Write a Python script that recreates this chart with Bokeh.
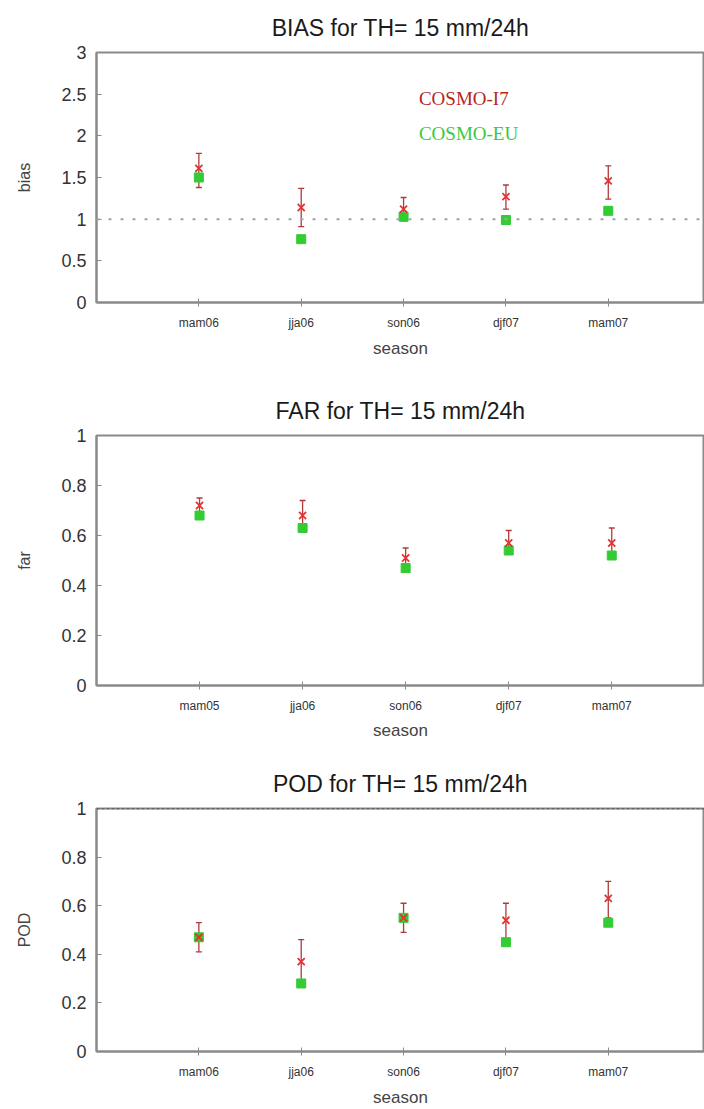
from bokeh.plotting import figure
from bokeh.models import (Range1d, FixedTicker, Span, Whisker, TeeHead,
                          ColumnDataSource, Label)
from bokeh.layouts import column
from bokeh.embed import file_html
from bokeh.resources import INLINE

# ---------------- data ----------------
seasons_bias = ["mam06", "jja06", "son06", "djf07", "mam07"]
seasons_far = ["mam05", "jja06", "son06", "djf07", "mam07"]
seasons_pod = ["mam06", "jja06", "son06", "djf07", "mam07"]

bias_i7 = [1.61, 1.14, 1.12, 1.27, 1.46]
bias_i7_lo = [1.38, 0.91, 0.98, 1.12, 1.24]
bias_i7_hi = [1.79, 1.37, 1.26, 1.41, 1.64]
bias_eu = [1.50, 0.76, 1.03, 0.99, 1.10]

far_i7 = [0.72, 0.68, 0.51, 0.57, 0.57]
far_i7_lo = [0.68, 0.63, 0.48, 0.53, 0.53]
far_i7_hi = [0.75, 0.74, 0.55, 0.62, 0.63]
far_eu = [0.68, 0.63, 0.47, 0.54, 0.52]

pod_i7 = [0.47, 0.37, 0.55, 0.54, 0.63]
pod_i7_lo = [0.41, 0.28, 0.49, 0.46, 0.55]
pod_i7_hi = [0.53, 0.46, 0.61, 0.61, 0.70]
pod_eu = [0.47, 0.28, 0.55, 0.45, 0.53]

bias_ticks = [0, 0.5, 1, 1.5, 2, 2.5, 3]
frac_ticks = [0, 0.2, 0.4, 0.6, 0.8, 1]

FONT = "Liberation Sans"
AXC = "#8a8a8a"
RED = "#e63232"
BAR = "#b03a3a"
GREEN = "#33cc33"


def make_panel(title, ylabel, seasons, i7, lo, hi, eu, yticks, x_end,
               b_left, b_top, b_bottom, frame_h, lab_s1, lab_s2, ylab_s):
    xs = list(range(1, len(seasons) + 1))
    p = figure(width=704, height=b_top + frame_h + b_bottom,
               x_range=Range1d(0, x_end), y_range=Range1d(yticks[0], yticks[-1]),
               output_backend="svg", toolbar_location=None,
               min_border_left=b_left, min_border_right=0,
               min_border_top=b_top, min_border_bottom=b_bottom,
               title=title)
    p.outline_line_color = AXC
    p.outline_line_width = 2
    p.grid.visible = False
    p.background_fill_color = "white"
    p.border_fill_color = "white"

    p.title.align = "center"
    p.title.vertical_align = "bottom"
    p.title.text_font = FONT
    p.title.text_font_size = "23px"
    p.title.text_font_style = "normal"
    p.title.text_color = "#1a1a1a"
    p.title.standoff = 24

    # bottom axis
    xa = p.xaxis[0]
    xa.ticker = FixedTicker(ticks=xs)
    xa.major_label_overrides = {x: s for x, s in zip(xs, seasons)}
    xa.major_label_text_font = FONT
    xa.major_label_text_font_size = "12px"
    xa.major_label_text_color = "#333333"
    xa.major_label_standoff = lab_s1
    xa.axis_label = "season"
    xa.axis_label_text_font = FONT
    xa.axis_label_text_font_size = "17px"
    xa.axis_label_text_font_style = "normal"
    xa.axis_label_text_color = "#444444"
    xa.axis_label_standoff = lab_s2
    xa.axis_line_color = AXC
    xa.axis_line_width = 2
    xa.major_tick_line_color = AXC
    xa.major_tick_in = 4
    xa.major_tick_out = 4
    xa.minor_tick_line_color = None

    # left axis
    ya = p.yaxis[0]
    ya.ticker = FixedTicker(ticks=yticks)
    ya.major_label_overrides = {t: f"{t:g}" for t in yticks}
    ya.major_label_text_font = FONT
    ya.major_label_text_font_size = "18px"
    ya.major_label_text_color = "#333333"
    ya.major_label_standoff = 10
    ya.axis_label = ylabel
    ya.axis_label_text_font = FONT
    ya.axis_label_text_font_size = "16px"
    ya.axis_label_text_font_style = "normal"
    ya.axis_label_text_color = "#444444"
    ya.axis_label_standoff = ylab_s
    ya.axis_line_color = AXC
    ya.axis_line_width = 2
    ya.major_tick_line_color = AXC
    ya.major_tick_in = 5
    ya.major_tick_out = 0
    ya.minor_tick_line_color = None

    src = ColumnDataSource(dict(x=xs, i7=i7, lo=lo, hi=hi, eu=eu))
    p.scatter("x", "eu", source=src, marker="square", size=9,
              fill_color=GREEN, line_color=GREEN)
    p.add_layout(Whisker(source=src, base="x", lower="lo", upper="hi",
                         line_color=BAR, line_width=1.3,
                         upper_head=TeeHead(size=6, line_color=BAR, line_width=1.3),
                         lower_head=TeeHead(size=6, line_color=BAR, line_width=1.3)))
    p.scatter("x", "i7", source=src, marker="x", size=10,
              line_color=RED, line_width=1.8)
    return p


p1 = make_panel("BIAS for TH= 15 mm/24h", "bias", seasons_bias, bias_i7, bias_i7_lo,
                bias_i7_hi, bias_eu, bias_ticks, 5.94,
                96, 52, 76, 250, 9, 6, 25)
p1.add_layout(Span(location=1, dimension="width", line_color="#a0a6b0",
                   line_width=2, line_dash="3 9"))
p1.add_layout(Label(x=3.15, y=2.45, text="COSMO-I7", text_font="Liberation Serif",
                    text_font_size="19px", text_color="#b5281c", text_baseline="middle"))
p1.add_layout(Label(x=3.15, y=2.03, text="COSMO-EU", text_font="Liberation Serif",
                    text_font_size="19px", text_color="#3cc83c", text_baseline="middle"))

p2 = make_panel("FAR for TH= 15 mm/24h", "far", seasons_far, far_i7, far_i7_lo,
                far_i7_hi, far_eu, frac_ticks, 5.90,
                90, 57, 67, 250, 9, 5, 25)

p3 = make_panel("POD for TH= 15 mm/24h", "POD", seasons_pod, pod_i7, pod_i7_lo,
                pod_i7_hi, pod_eu, frac_ticks, 5.94,
                96, 56, 53, 248, 9, 6, 25)
p3.add_layout(Span(location=1, dimension="width", line_color="#444444",
                   line_width=1.5, line_dash="3 2"))

layout = column(p1, p2, p3, spacing=0)
open("out.html", "w").write(file_html(layout, INLINE))
